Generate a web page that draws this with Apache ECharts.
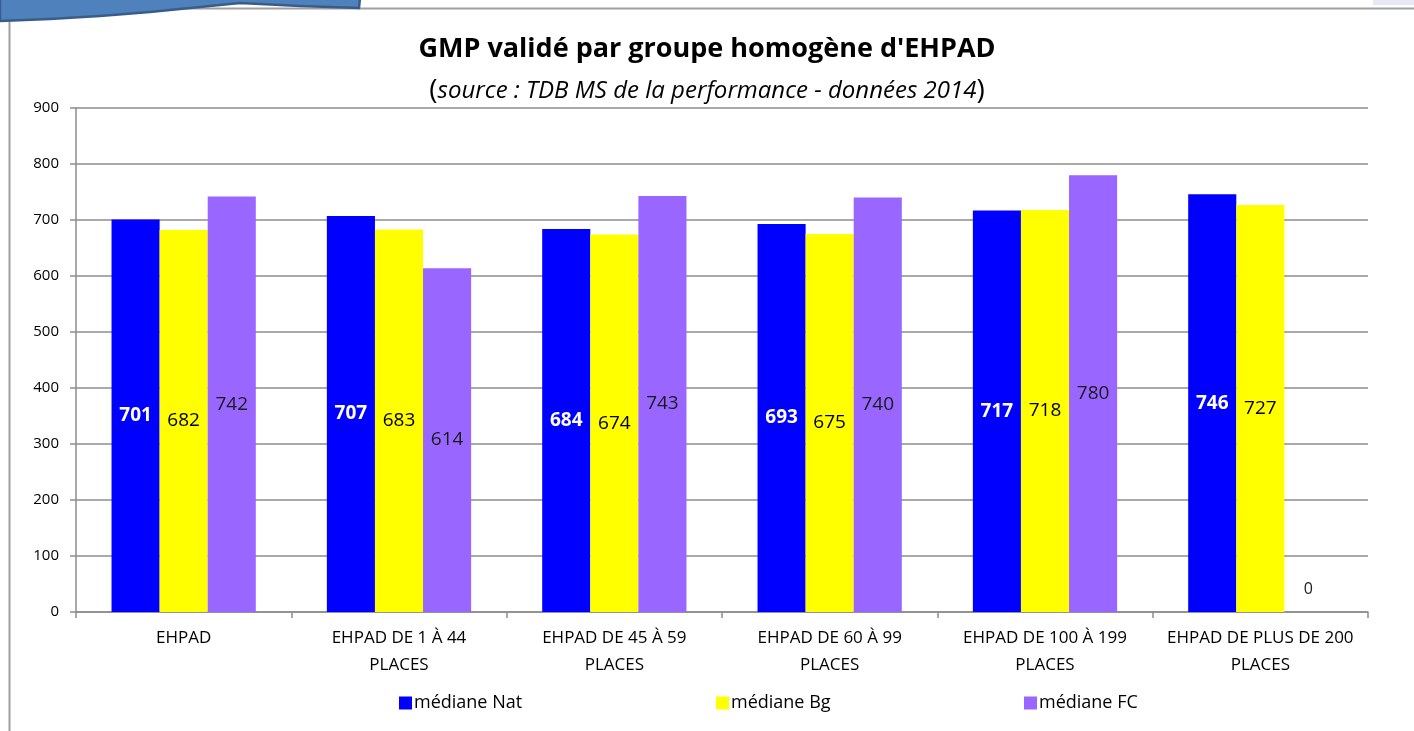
<!DOCTYPE html>
<html>
<head>
<meta charset="utf-8">
<script src="https://cdn.jsdelivr.net/npm/echarts@6/dist/echarts.min.js"></script>
<style>
  html, body { margin: 0; padding: 0; background: #fff; }
  #chart { width: 1414px; height: 731px; }
</style>
</head>
<body>
<div id="chart"></div>
<script>
// catégories (axe X)
const categories = [
  'EHPAD',
  'EHPAD DE 1 À 44\nPLACES',
  'EHPAD DE 45 À 59\nPLACES',
  'EHPAD DE 60 À 99\nPLACES',
  'EHPAD DE 100 À 199\nPLACES',
  'EHPAD DE PLUS DE 200\nPLACES'
]
const seriesNames = ['médiane Nat', 'médiane Bg', 'médiane FC']
const medianeNat = [701, 707, 684, 693, 717, 746]
const medianeBg = [682, 683, 674, 675, 718, 727]
const medianeFC = [742, 614, 743, 740, 780, 0]
const yTicks = [0, 100, 200, 300, 400, 500, 600, 700, 800, 900]

const font = '"Open Sans", "Noto Sans", sans-serif'
const gridColor = '#8c8c8c'

const chart = echarts.init(document.getElementById('chart'))

function labelCfg(color, bold) {
  return {
    show: true,
    position: 'inside',
    fontSize: 19,
    fontFamily: font,
    fontWeight: bold ? 'bold' : 'normal',
    color: color
  }
}

const fcData = medianeFC.map(v => v === 0
  ? { value: v, label: { position: 'top', offset: [0, -10], fontSize: 16 } }
  : v)

const legendBase = {
  icon: 'rect',
  itemWidth: 13,
  itemHeight: 13,
  itemGap: 4,
  bottom: 14,
  textStyle: { fontSize: 18, fontFamily: font, color: '#000', padding: [0, 0, 0, -3] }
}

let option = {
  animation: false,
  color: ['#0000FF', '#FFFF00', '#9966FF'],
  title: {
    text: "GMP validé par groupe homogène d'EHPAD",
    subtext: '{p|(}{i|source : TDB MS de la performance - données 2014}{p|)}',
    left: 'center',
    top: 31,
    itemGap: 14,
    textStyle: { fontSize: 27, fontWeight: 'bold', fontFamily: font, color: '#000' },
    subtextStyle: {
      rich: {
        p: { fontSize: 28, fontFamily: font, color: '#000' },
        i: { fontSize: 24, fontStyle: 'italic', fontFamily: font, color: '#000' }
      }
    }
  },
  legend: [
    Object.assign({}, legendBase, { left: 394, data: [seriesNames[0]] }),
    Object.assign({}, legendBase, { left: 711, data: [seriesNames[1]] }),
    Object.assign({}, legendBase, { left: 1019, data: [seriesNames[2]] })
  ],
  grid: { left: 76, right: 46, top: 108, bottom: 119 },
  xAxis: {
    type: 'category',
    data: categories,
    axisLine: { lineStyle: { color: gridColor, width: 1.5 } },
    axisTick: { show: true, length: 6, lineStyle: { color: gridColor, width: 1.5 } },
    axisLabel: { fontSize: 17, fontFamily: font, color: '#000', margin: 13, lineHeight: 27, interval: 0 }
  },
  yAxis: {
    type: 'value',
    min: 0,
    max: 900,
    interval: 100,
    axisLine: { show: true, lineStyle: { color: gridColor, width: 1.5 } },
    axisTick: { show: true, length: 6, lineStyle: { color: gridColor, width: 1.5 } },
    splitLine: { lineStyle: { color: gridColor, width: 1.5 } },
    axisLabel: {
      fontSize: 15, fontFamily: font, color: '#000', margin: 17,
      formatter: v => yTicks.includes(v) ? String(v) : ''
    }
  },
  series: [
    {
      name: seriesNames[0], type: 'bar', data: medianeNat,
      barGap: 0, barCategoryGap: '33%',
      label: labelCfg('#fff', true)
    },
    {
      name: seriesNames[1], type: 'bar', data: medianeBg,
      barGap: 0, barCategoryGap: '33%',
      label: labelCfg('#000', false)
    },
    {
      name: seriesNames[2], type: 'bar', data: fcData,
      barGap: 0, barCategoryGap: '33%',
      label: labelCfg('#1a1a1a', false)
    }
  ],
  graphic: [
    // cadre de la zone (capture d'écran)
    { type: 'line', shape: { x1: 9.5, y1: 8, x2: 9.5, y2: 731 }, style: { stroke: '#a0a0a0', lineWidth: 2 }, z: 1 },
    { type: 'line', shape: { x1: 9, y1: 8.5, x2: 1414, y2: 8.5 }, style: { stroke: '#a0a0a0', lineWidth: 2 }, z: 1 },
    { type: 'rect', shape: { x: 1373, y: 0, width: 41, height: 5 }, style: { fill: '#e8e8f4' }, z: 1 },
    // forme bleue en haut à gauche
    {
      type: 'polygon',
      shape: {
        points: [[0, -2], [360, -2], [359, 8], [300, 6], [240, 3], [200, 7], [150, 12], [100, 16], [50, 19], [0, 21]]
      },
      style: { fill: '#4F81BD', stroke: '#385D8A', lineWidth: 2.5 },
      z: 10
    }
  ]
}

chart.setOption(option)
</script>
</body>
</html>
